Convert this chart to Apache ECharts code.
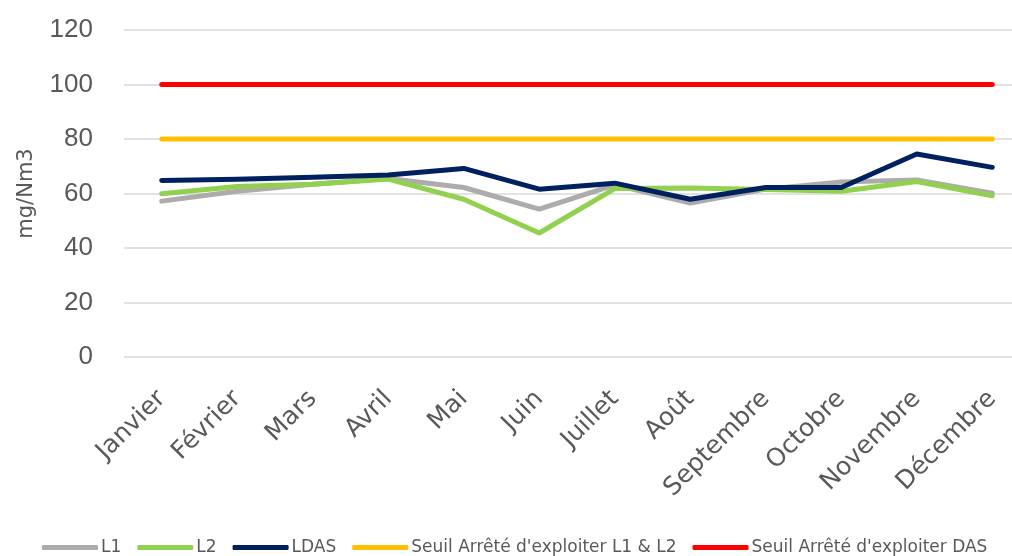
<!DOCTYPE html>
<html>
<head>
<meta charset="utf-8">
<script src="https://cdn.jsdelivr.net/npm/echarts@6/dist/echarts.min.js"></script>
<style>
  html, body { margin: 0; padding: 0; background: #ffffff; }
  #chart { width: 1012px; height: 556px; }
</style>
</head>
<body>
<div id="chart"></div>
<script>
// Monthly concentrations (mg/Nm3)
const months = ['Janvier', 'Février', 'Mars', 'Avril', 'Mai', 'Juin', 'Juillet', 'Août', 'Septembre', 'Octobre', 'Novembre', 'Décembre'];
const l1 = [57.2, 60.8, 63.4, 65.5, 62.2, 54.3, 63.2, 56.5, 61.6, 64.2, 65.0, 60.1];
const l2 = [59.9, 62.6, 63.4, 65.3, 57.9, 45.5, 61.8, 62.0, 61.5, 60.8, 64.4, 59.2];
const ldas = [64.8, 65.2, 66.0, 66.8, 69.2, 61.6, 63.8, 57.9, 62.2, 62.2, 74.5, 69.6];
const seuilL1L2 = [80, 80, 80, 80, 80, 80, 80, 80, 80, 80, 80, 80];
const seuilDAS = [100, 100, 100, 100, 100, 100, 100, 100, 100, 100, 100, 100];
const yTicks = { min: 0, max: 120, interval: 20 };

const seriesDefs = [
  { name: 'L1', data: l1, color: '#AEABAB' },
  { name: 'L2', data: l2, color: '#92D050' },
  { name: 'LDAS', data: ldas, color: '#002060' },
  { name: "Seuil Arrêté d'exploiter L1 & L2", data: seuilL1L2, color: '#FFC000' },
  { name: "Seuil Arrêté d'exploiter DAS", data: seuilDAS, color: '#FF0000' }
];

const chart = echarts.init(document.getElementById('chart'), null, { renderer: 'canvas' });

chart.setOption({
  animation: false,
  backgroundColor: '#ffffff',
  textStyle: { fontFamily: 'DejaVu Sans' },
  // plot area runs past the right edge, so the last category band is cut off
  grid: { left: 124, width: 906, top: 30, bottom: 199, containLabel: false, outerBoundsMode: 'none' },
  legend: {
    top: 534,
    left: 37,
    itemWidth: 56,
    itemHeight: 5,
    itemGap: 16,
    icon: 'roundRect',
    textStyle: { color: '#595959', fontSize: 17, fontFamily: 'DejaVu Sans', padding: [0, 0, 0, -2] },
    data: seriesDefs.map(s => s.name)
  },
  xAxis: {
    type: 'category',
    data: months,
    boundaryGap: true,
    axisLine: { show: false },
    axisTick: { show: false },
    axisLabel: {
      rotate: 45,
      margin: 38,
      interval: 0,
      color: '#595959',
      fontSize: 25,
      fontFamily: 'DejaVu Sans'
    }
  },
  yAxis: {
    type: 'value',
    min: yTicks.min,
    max: yTicks.max,
    interval: yTicks.interval,
    name: 'mg/Nm3',
    nameLocation: 'middle',
    nameGap: 87,
    nameRotate: 90,
    nameTextStyle: { color: '#595959', fontSize: 21, fontFamily: 'DejaVu Sans' },
    axisLine: { show: false },
    axisTick: { show: false },
    axisLabel: { color: '#595959', fontSize: 26, margin: 31, fontFamily: 'Liberation Sans' },
    splitLine: { lineStyle: { color: '#D9D9D9', width: 1.5 } }
  },
  series: seriesDefs.map(s => ({
    name: s.name,
    type: 'line',
    data: s.data,
    showSymbol: false,
    symbol: 'none',
    itemStyle: { color: s.color },
    lineStyle: { color: s.color, width: 5, cap: 'round', join: 'round' },
    emphasis: { disabled: true }
  }))
});
</script>
</body>
</html>
